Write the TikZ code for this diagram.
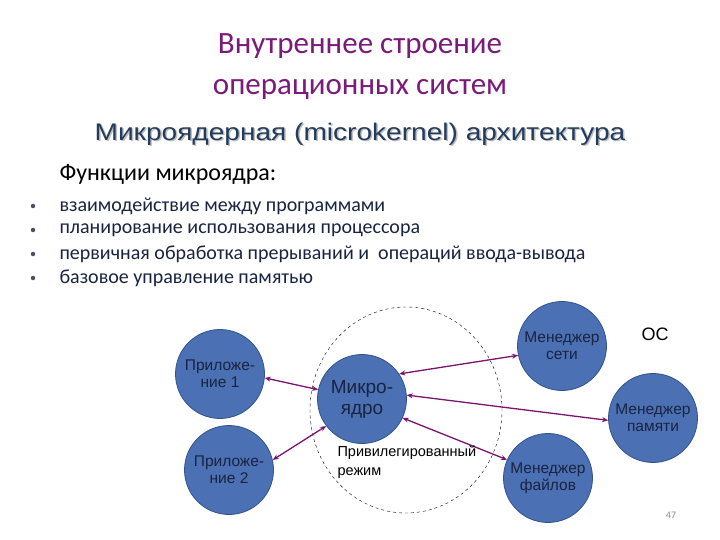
\documentclass[tikz,border=0pt]{standalone}
\usepackage{fontspec}
\setmainfont{Carlito}
\newfontfamily\arialfont{Liberation Sans}
\usepackage{tikz}
\usetikzlibrary{shapes,arrows.meta}

\definecolor{titlepurple}{RGB}{122,26,122}
\definecolor{subblue}{RGB}{36,60,92}
\definecolor{listblue}{RGB}{24,36,64}
\definecolor{discfill}{RGB}{76,112,180}
\definecolor{discline}{RGB}{52,82,140}
\definecolor{linkpurple}{RGB}{122,20,110}

\tikzset{
  disc/.style={circle, fill=discfill, draw=discline, thick, minimum size=89pt,
    inner sep=0pt, align=center, font=\arialfont\fontsize{15.5}{17}\selectfont,
    text=listblue},
  link/.style={linkpurple, line width=1.3pt, {Stealth[length=6pt,width=5pt]}-{Stealth[length=6pt,width=5pt]}},
  item/.style={anchor=west, text=listblue, font=\fontsize{20}{21}\selectfont},
  dot/.style={circle, fill=listblue!80, inner sep=0pt, minimum size=4.5pt},
  subtitle/.style={font=\arialfont\fontsize{24}{26}\selectfont}
}

\begin{document}
\begin{tikzpicture}[x=1pt, y=-1pt]
  \useasboundingbox[fill=white] (0,0) rectangle (720,540);

  % headings
  \node[text=titlepurple, align=center, font=\fontsize{31}{41}\selectfont] (title) at (360,67)
    {Внутреннее строение\\операционных систем};
  \node[subtitle, text=black!25] (subshadow) at (361.5,135.5)
    {\scalebox{1.17}[1]{Микроядерная (microkernel) архитектура}};
  \node[subtitle, text=subblue] (sub) at (360,134)
    {\scalebox{1.17}[1]{Микроядерная (microkernel) архитектура}};
  \node[anchor=west, font=\fontsize{24}{26}\selectfont] (func) at (56,174) {Функции микроядра:};

  % list
  \foreach \txt [count=\i] in {взаимодействие между программами,
      планирование использования процессора,
      первичная обработка прерываний и\ \ операций ввода-вывода,
      базовое управление памятью} {
    \node[dot] (dot\i) at (33,{182+24*\i}) {};
    \node[item] (it\i) at (56,{182+24*\i}) {\txt};
  }

  % privileged area
  \node[draw, dashed, ellipse, minimum width=192pt, minimum height=206pt, inner sep=0pt] (priv) at (406,410) {};

  % discs
  \node[disc] (app1) at (220,374) {Приложе-\\ние 1};
  \node[disc] (app2) at (229,470) {Приложе-\\ние 2};
  \node[disc, font=\arialfont\fontsize{19}{21}\selectfont] (kern) at (362,399) {Микро-\\ядро};
  \node[disc] (net) at (562,346) {Менеджер\\сети};
  \node[disc] (mem) at (653,418) {Менеджер\\памяти};
  \node[disc] (files) at (548,478) {Менеджер\\файлов};

  % links
  \draw[link] (app1.-5) -- (kern.168);
  \draw[link] (app2.13) -- (kern.217);
  \draw[link] (kern.34) -- (net.192);
  \draw[link] (kern.5) -- (mem.183);
  \draw[link] (kern.-25) -- (files.156);

  % labels
  \node[anchor=west, align=left, font=\arialfont\fontsize{14.5}{19}\selectfont] (privtext) at (334,462)
    {Привилегированный\\режим};
  \node[font=\arialfont\fontsize{18}{20}\selectfont] (os) at (655,334) {ОС};
  \node[text=black!45, font=\fontsize{10}{12}\selectfont] (page) at (671,515) {47};
\end{tikzpicture}
\end{document}
